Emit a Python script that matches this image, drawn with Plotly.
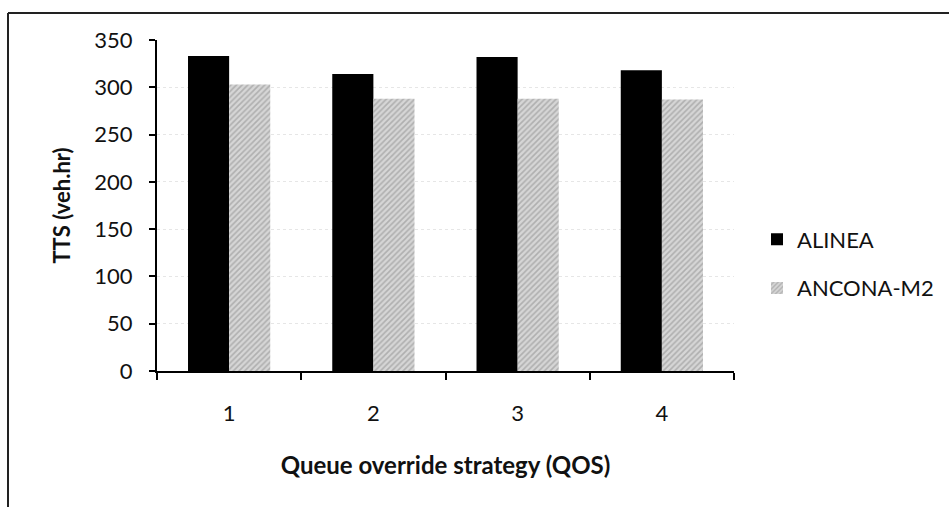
import plotly.graph_objects as go

categories = ["1", "2", "3", "4"]
alinea = [333, 314, 332, 318]
ancona_m2 = [303, 288, 288, 287]
y_ticks = [0, 50, 100, 150, 200, 250, 300, 350]

FONT = "Lato"

fig = go.Figure()
fig.add_trace(go.Bar(
    x=categories, y=alinea, name="ALINEA", legendgroup="a",
    marker=dict(color="#000000", line=dict(width=0)),
))
fig.add_trace(go.Bar(
    x=categories, y=ancona_m2, name="ANCONA-M2", legendgroup="b",
    marker=dict(color="#cccccc", line=dict(width=0),
                pattern=dict(shape="/", fgcolor="#888888", bgcolor="#d6d6d6",
                             size=4, solidity=0.4)),
))

L, R, T, B = 157, 215, 40, 136
W, H = 949, 507
pw, ph = W - L - R, H - T - B

def px(x):
    return (x - L) / pw

def py(y):
    return (H - B - y) / ph

fig.update_layout(
    width=W, height=H,
    margin=dict(l=L, r=R, t=T, b=B, autoexpand=False),
    paper_bgcolor="white", plot_bgcolor="white",
    barmode="group", bargap=0.43, bargroupgap=0,
    font=dict(family=FONT, size=22, color="#111111"),
    legend=dict(x=px(757), y=py(264), xanchor="left", yanchor="middle",
                font=dict(family=FONT, size=22, color="#111111"),
                tracegroupgap=17, bgcolor="rgba(0,0,0,0)"),
    xaxis=dict(
        type="category", showline=True, linecolor="#000000", linewidth=2,
        ticks="outside", tickson="boundaries", ticklen=7, tickwidth=1.5,
        tickcolor="#000000", ticklabelstandoff=22, automargin=False,
        title=dict(text="<b>Queue override strategy (QOS)</b>", standoff=32,
                   font=dict(family=FONT, size=24)),
    ),
    yaxis=dict(
        range=[0, 350], tickvals=y_ticks, showline=True, linecolor="#000000",
        linewidth=2, ticks="outside", ticklen=6, tickwidth=1.5,
        tickcolor="#000000", ticklabelstandoff=12, automargin=False,
        showgrid=True, gridcolor="#e6e6e6", griddash="dot", gridwidth=1,
        zeroline=False,
        title=dict(text="<b>TTS (veh.hr)</b>", standoff=18,
                   font=dict(family=FONT, size=22)),
    ),
    shapes=[
        dict(type="line", xref="paper", yref="paper",
             x0=px(8), x1=px(952), y0=py(13), y1=py(13),
             line=dict(color="#222222", width=2)),
        dict(type="line", xref="paper", yref="paper",
             x0=px(8), x1=px(8), y0=py(13), y1=py(510),
             line=dict(color="#222222", width=2)),
    ],
)

fig.write_html("out.html", config={"displayModeBar": False},
               post_script="document.body.style.margin='0';document.body.style.overflow='hidden';")
